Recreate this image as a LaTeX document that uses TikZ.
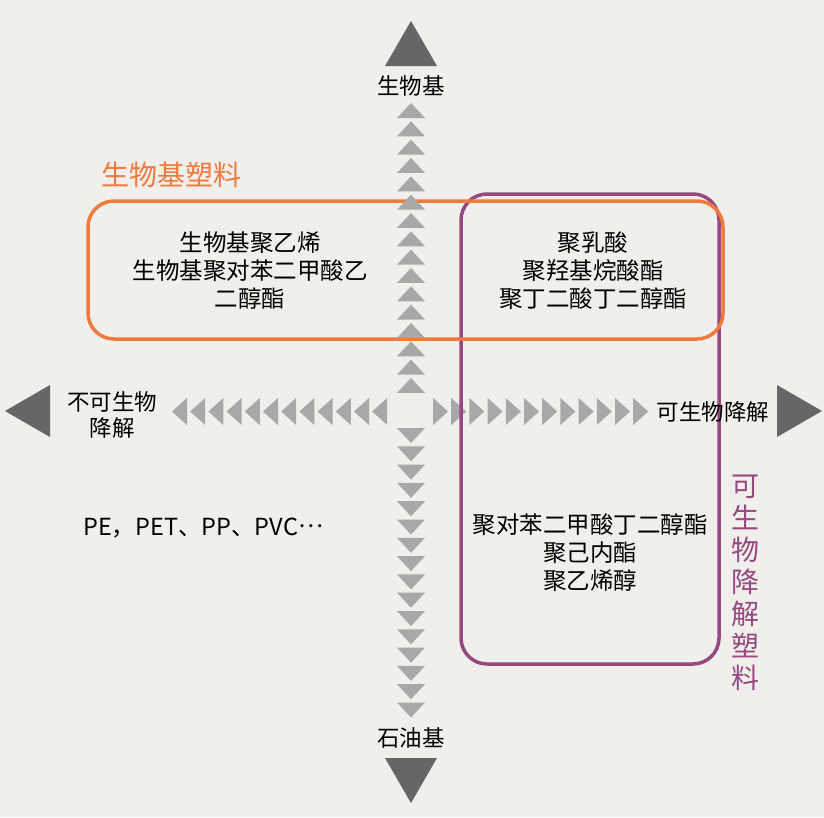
\documentclass[tikz,border=0pt]{standalone}
\usepackage{fontspec}
\newfontfamily\cjk{Noto Sans CJK SC}
\usetikzlibrary{positioning}
\definecolor{bgpaper}{RGB}{240,239,235}
\definecolor{tipdark}{RGB}{102,102,102}
\definecolor{chevgray}{RGB}{168,168,168}
\definecolor{bioorange}{RGB}{240,122,62}
\definecolor{degpurple}{RGB}{150,72,128}
\tikzset{
  axislbl/.style={font=\cjk\fontsize{22.5}{26}\selectfont,align=center,inner sep=0pt},
  item/.style={font=\cjk\fontsize{23.5}{28}\selectfont,align=center,inner sep=0pt},
  grouplbl/.style={font=\cjk\fontsize{28}{32}\selectfont,align=center,inner sep=0pt},
  chev/.style={fill=chevgray},
  bigtip/.style={fill=tipdark},
  groupbox/.style={line width=3.5pt,rounded corners=26pt}
}

\begin{document}
\begin{tikzpicture}[x=1pt,y=-1pt]
\fill[bgpaper] (0,0) rectangle (824,817);
\useasboundingbox (0,0) rectangle (824,817);
% big axis tips
\fill[bigtip] (411,21)--(437,66)--(385,66)--cycle;
\fill[bigtip] (411,803)--(437,758)--(385,758)--cycle;
\fill[bigtip] (5,411)--(50,385)--(50,437)--cycle;
\fill[bigtip] (822,411)--(777,385)--(777,437)--cycle;
% horizontal chevrons
\foreach \i in {0,...,11} {
  \fill[chev] ({172+18.2*\i},411.5)--({187+18.2*\i},398)--({187+18.2*\i},425)--cycle;
  \fill[chev] ({448+18.2*\i},411.5)--({433+18.2*\i},398)--({433+18.2*\i},425)--cycle;
}
% plastic groups
\draw[groupbox,degpurple] (461,194) rectangle (719,664);
\draw[groupbox,bioorange] (88,201) rectangle (723,339);
% vertical chevrons
\foreach \i in {0,...,15} {
  \fill[chev] (411,{103+18.33*\i})--(425,{118+18.33*\i})--(397,{118+18.33*\i})--cycle;
  \fill[chev] (411,{443+18.3*\i})--(425,{428+18.3*\i})--(397,{428+18.3*\i})--cycle;
}
\node[axislbl] (bio) at (411,86) {生物基};
\node[axislbl] (petro) at (411,738) {石油基};
\node[axislbl] (nondeg) at (112,415) {不可生物\\降解};
\node[axislbl] (deg) at (713,412) {可生物降解};
\node[grouplbl,bioorange,anchor=west] (biolbl) at (101,175) {生物基塑料};
\node[grouplbl,degpurple] (deglbl) at (745,583) {可\\生\\物\\降\\解\\塑\\料};
\node[item] (biononde) at (250,271) {生物基聚乙烯\\生物基聚对苯二甲酸乙\\二醇酯};
\node[item] (biodeg) at (593,271) {聚乳酸\\聚羟基烷酸酯\\聚丁二酸丁二醇酯};
\node[item] (petrodeg) at (590,553) {聚对苯二甲酸丁二醇酯\\聚己内酯\\聚乙烯醇};
\node[item,anchor=west] (petrononde) at (83,528) {PE，PET、PP、PVC\raisebox{.33em}{…}};
\end{tikzpicture}
\end{document}
